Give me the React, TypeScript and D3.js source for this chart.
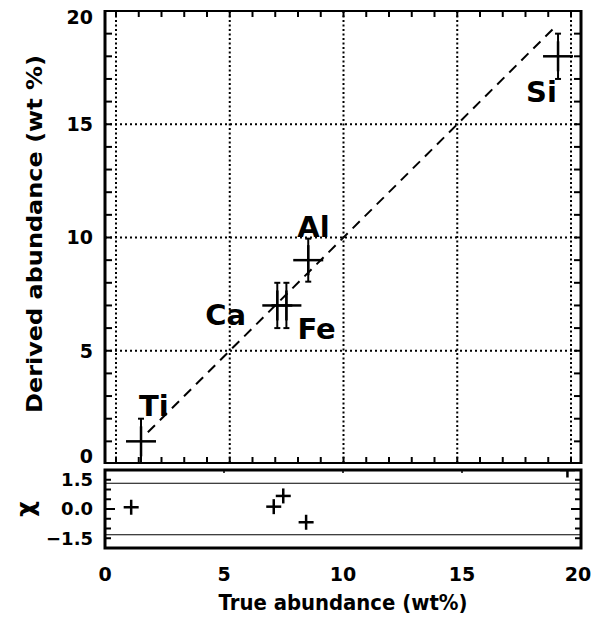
import React from "react";
import * as d3 from "d3";

// ---- data ----
const ELEMENTS = ["Ti", "Al", "Ca", "Fe", "Si"];
const TRUE_ABUND = [1.1, 8.45, 7.09, 7.49, 19.43];
const DERIVED = [1.0, 9.0, 7.0, 7.0, 18.0];
const DERIVED_ERR = [1.0, 0.95, 1.0, 1.0, 1.0];
const CHI = [0.09, -0.68, 0.12, 0.67, 2.0];
const ONE_TO_ONE = [1.4, 19.3];
const X_TICKS = [0, 5, 10, 15, 20];
const Y_TICKS = [0, 5, 10, 15, 20];
const CHI_TICKS = [1.5, 0, -1.5];
const CHI_LIMITS = [1.32, -1.32];

// ---- layout / style ----
const W = 596, H = 619;
const L = 105, R = 581;
const TOP = { t: 11, b: 463 };
const BOT = { t: 470, b: 548 };
const FONT = "DejaVu Sans, sans-serif";
// label offsets in px relative to point (start x, baseline y)
const LABEL_OFF: [number, number][] = [[-2, -25], [-11, -23], [-72, 20], [11, 34], [-32, 46]];

export default function App() {
  const xTop = d3.scaleLinear().domain([0, 20]).range([116, 571]);
  const yTop = d3.scaleLinear().domain([0, 20]).range([464, 11]);
  const xBot = d3.scaleLinear().domain([0, 20]).range([L, R]);
  const yBot = d3.scaleLinear().domain([-2, 2]).range([BOT.b, BOT.t]);

  const unitTicks = d3.range(0, 21);
  const chiMinor = d3.range(-2, 2.01, 0.5);
  const clampY = (y: number, t: number, b: number) => Math.max(t + 6, Math.min(b - 7, y));

  const diag = d3.line<number>().x((d) => xTop(d)).y((d) => yTop(d));

  return (
    <svg width={W} height={H} style={{ position: "absolute", left: 0, top: 0, background: "#fff" }} fontFamily={FONT}>
      <defs>
        <clipPath id="cTop"><rect x={L} y={TOP.t} width={R - L} height={TOP.b - TOP.t} /></clipPath>
        <clipPath id="cBot"><rect x={L} y={BOT.t} width={R - L} height={BOT.b - BOT.t} /></clipPath>
      </defs>

      {/* ---------- top panel ---------- */}
      <g clipPath="url(#cTop)">
        {X_TICKS.map((v) => (
          <line key={"gx" + v} x1={xTop(v)} x2={xTop(v)} y1={TOP.t} y2={TOP.b} stroke="#000" strokeWidth={2} strokeDasharray="2,2.5" />
        ))}
        {Y_TICKS.map((v) => (
          <line key={"gy" + v} x1={L} x2={R} y1={yTop(v)} y2={yTop(v)} stroke="#000" strokeWidth={2} strokeDasharray="2,3" />
        ))}
        {unitTicks.map((v) => (
          <g key={"tk" + v}>
            <line x1={xTop(v)} x2={xTop(v)} y1={TOP.t} y2={TOP.t + 6} stroke="#000" strokeWidth={2} />
            <line x1={xTop(v)} x2={xTop(v)} y1={TOP.b} y2={TOP.b - 6} stroke="#000" strokeWidth={2} />
            <line x1={L} x2={L + 7} y1={yTop(v)} y2={yTop(v)} stroke="#000" strokeWidth={2} />
            <line x1={R} x2={R - 7} y1={yTop(v)} y2={yTop(v)} stroke="#000" strokeWidth={2} />
          </g>
        ))}
        <path d={diag(ONE_TO_ONE) || ""} fill="none" stroke="#000" strokeWidth={2} strokeDasharray="10,7" />
        {ELEMENTS.map((el, i) => {
          const cx = xTop(TRUE_ABUND[i]);
          const cy = yTop(DERIVED[i]);
          const y1 = yTop(DERIVED[i] + DERIVED_ERR[i]);
          const y2 = yTop(DERIVED[i] - DERIVED_ERR[i]);
          return (
            <g key={el}>
              <line x1={cx} x2={cx} y1={y1} y2={y2} stroke="#000" strokeWidth={2} />
              <line x1={cx - 3} x2={cx + 3} y1={y1} y2={y1} stroke="#000" strokeWidth={2} />
              <line x1={cx - 3} x2={cx + 3} y1={y2} y2={y2} stroke="#000" strokeWidth={2} />
              <line x1={cx - 15} x2={cx + 15} y1={cy} y2={cy} stroke="#000" strokeWidth={2.5} />
              <line x1={cx} x2={cx} y1={cy - 15} y2={cy + 15} stroke="#000" strokeWidth={2.5} />
            </g>
          );
        })}
      </g>
      {ELEMENTS.map((el, i) => (
        <text key={"lab" + el} x={xTop(TRUE_ABUND[i]) + LABEL_OFF[i][0]} y={yTop(DERIVED[i]) + LABEL_OFF[i][1]}
          fontSize={29} fontWeight="bold" fill="#000">{el}</text>
      ))}
      <rect x={L} y={TOP.t} width={R - L} height={TOP.b - TOP.t} fill="none" stroke="#000" strokeWidth={2} />
      <line x1={L} x2={L} y1={TOP.t - 1} y2={TOP.b + 1} stroke="#000" strokeWidth={3} />
      <line x1={R} x2={R} y1={TOP.t - 1} y2={TOP.b + 1} stroke="#000" strokeWidth={3} />
      {Y_TICKS.map((v) => (
        <text key={"yl" + v} x={93} y={clampY(yTop(v), TOP.t, TOP.b)} dy="0.36em" textAnchor="end" fontSize={19} fontWeight="bold" fill="#000">{v}</text>
      ))}
      <text transform={`translate(42, 234) rotate(-90)`} textAnchor="middle" fontSize={22} fontWeight="bold" fill="#000"
        textLength={358} lengthAdjust="spacingAndGlyphs">Derived abundance (wt %)</text>

      {/* ---------- bottom panel ---------- */}
      <g clipPath="url(#cBot)">
        {CHI_LIMITS.map((v) => (
          <line key={"cl" + v} x1={L} x2={R} y1={yBot(v)} y2={yBot(v)} stroke="#000" strokeWidth={1.2} />
        ))}
        {chiMinor.map((v) => (
          <g key={"ct" + v}>
            <line x1={L} x2={L + (v === 0 ? 10 : 6)} y1={yBot(v)} y2={yBot(v)} stroke="#000" strokeWidth={2} />
            <line x1={R} x2={R - (v === 0 ? 10 : 6)} y1={yBot(v)} y2={yBot(v)} stroke="#000" strokeWidth={2} />
          </g>
        ))}
        {X_TICKS.map((v) => (
          <line key={"bx" + v} x1={xBot(v)} x2={xBot(v)} y1={BOT.t} y2={BOT.t + 3} stroke="#000" strokeWidth={1.5} />
        ))}
        {ELEMENTS.map((el, i) => {
          const cx = xBot(TRUE_ABUND[i]);
          const cy = yBot(CHI[i]);
          return (
            <g key={"chi" + el}>
              <line x1={cx - 7.5} x2={cx + 7.5} y1={cy} y2={cy} stroke="#000" strokeWidth={2.5} />
              <line x1={cx} x2={cx} y1={cy - 7.5} y2={cy + 7.5} stroke="#000" strokeWidth={2.5} />
            </g>
          );
        })}
      </g>
      <rect x={L} y={BOT.t} width={R - L} height={BOT.b - BOT.t} fill="none" stroke="#000" strokeWidth={3} />
      {CHI_TICKS.map((v) => (
        <text key={"cy" + v} x={93} y={clampY(yBot(v), BOT.t - 6, BOT.b + 6)} dy="0.36em" textAnchor="end" fontSize={18} fontWeight="bold" fill="#000">
          {v === 0 ? "0.0" : v < 0 ? "\u2212" + Math.abs(v).toFixed(1) : v.toFixed(1)}
        </text>
      ))}
      <text transform="translate(27, 509) rotate(-90)" textAnchor="middle" dy="0.3em" fontSize={24} fontWeight="bold" fill="#000">χ</text>
      {X_TICKS.map((v) => (
        <text key={"xl" + v} x={Math.min(xBot(v), R - 3)} y={581} textAnchor="middle" fontSize={19} fontWeight="bold" fill="#000">{v}</text>
      ))}
      <text x={(L + R) / 2} y={610} textAnchor="middle" fontSize={22} fontWeight="bold" fill="#000" textLength={249} lengthAdjust="spacingAndGlyphs">
        True abundance (wt%)
      </text>
    </svg>
  );
}
